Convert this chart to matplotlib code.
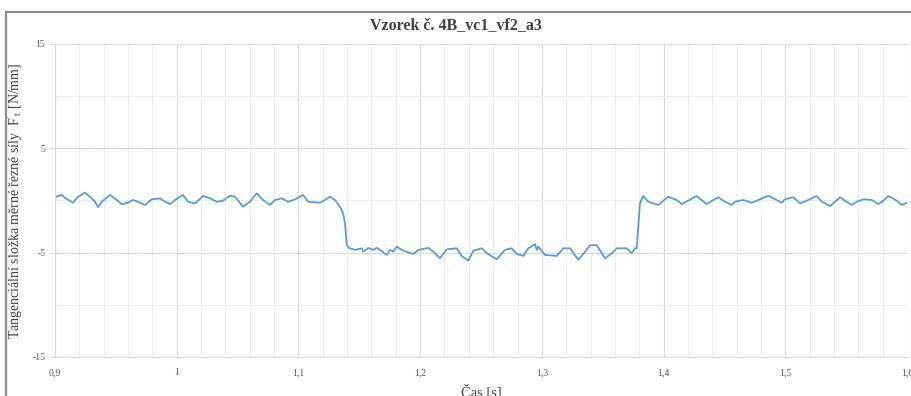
import matplotlib.pyplot as plt
from matplotlib.patches import Rectangle
from matplotlib.ticker import MultipleLocator, FuncFormatter

# measured tangential specific cutting force over time
cas = [0.9000, 0.9055, 0.9082, 0.9148, 0.9189, 0.9246, 0.9288, 0.9329, 0.9353, 0.9384,
       0.9452, 0.9507, 0.9548, 0.9600, 0.9641, 0.9682, 0.9740, 0.9794, 0.9863, 0.9904,
       0.9945, 0.9986, 1.0052, 1.0093, 1.0150, 1.0216, 1.0274, 1.0329, 1.0380, 1.0438,
       1.0479, 1.0545, 1.0602, 1.0657, 1.0709, 1.0766, 1.0808, 1.0863, 1.0914, 1.0972,
       1.1038, 1.1079, 1.1177, 1.1218, 1.1259, 1.1300, 1.1341, 1.1366, 1.1382, 1.1397,
       1.1418, 1.1424, 1.1465, 1.1520, 1.1533, 1.1574, 1.1615, 1.1643, 1.1670, 1.1725,
       1.1752, 1.1779, 1.1807, 1.1848, 1.1903, 1.1944, 1.1985, 1.2067, 1.2108, 1.2163,
       1.2218, 1.2300, 1.2341, 1.2396, 1.2437, 1.2506, 1.2547, 1.2629, 1.2697, 1.2752,
       1.2793, 1.2848, 1.2889, 1.2944, 1.2958, 1.2971, 1.3026, 1.3122, 1.3177, 1.3232,
       1.3299, 1.3341, 1.3396, 1.3451, 1.3519, 1.3574, 1.3615, 1.3697, 1.3738, 1.3765,
       1.3779, 1.3806, 1.3833, 1.3874, 1.3956, 1.4038, 1.4107, 1.4148, 1.4202, 1.4271,
       1.4353, 1.4449, 1.4490, 1.4559, 1.4586, 1.4654, 1.4723, 1.4764, 1.4860, 1.4901,
       1.4970, 1.4997, 1.5066, 1.5121, 1.5189, 1.5258, 1.5300, 1.5368, 1.5450, 1.5491,
       1.5546, 1.5587, 1.5642, 1.5711, 1.5765, 1.5806, 1.5847, 1.5916, 1.5957, 1.6000]
sila = [0.31, 0.53, 0.24, -0.21, 0.36, 0.75, 0.36, -0.12, -0.65, -0.12,
        0.53, 0.05, -0.36, -0.21, 0.05, -0.12, -0.43, 0.11, 0.21, -0.12,
        -0.34, 0.05, 0.53, -0.12, -0.27, 0.43, 0.21, -0.12, -0.02, 0.46,
        0.36, -0.59, -0.12, 0.69, 0.05, -0.43, 0.05, 0.21, -0.12, 0.11,
        0.53, -0.12, -0.21, 0.05, 0.36, 0.05, -0.59, -1.20, -2.15, -4.26,
        -4.58, -4.58, -4.74, -4.58, -4.90, -4.54, -4.74, -4.54, -4.74, -5.22,
        -4.74, -4.90, -4.42, -4.74, -4.99, -5.12, -4.74, -4.54, -4.90, -5.54,
        -4.68, -4.58, -5.32, -5.76, -4.82, -4.58, -5.05, -5.63, -4.74, -4.58,
        -5.12, -5.31, -4.58, -4.19, -4.74, -4.42, -5.22, -5.31, -4.58, -4.58,
        -5.69, -5.12, -4.29, -4.29, -5.54, -5.07, -4.58, -4.58, -5.07, -4.58,
        -4.58, -0.27, 0.43, -0.12, -0.43, 0.36, 0.05, -0.34, -0.02, 0.43,
        -0.34, 0.31, -0.02, -0.43, -0.12, 0.05, -0.21, -0.02, 0.46, 0.21,
        -0.21, 0.11, 0.31, -0.27, 0.05, 0.43, -0.12, -0.53, 0.31, -0.02,
        -0.43, -0.12, 0.11, 0.05, -0.34, -0.02, 0.43, -0.02, -0.43, -0.21]

serif = 'Liberation Serif'
plt.rcParams['font.family'] = serif
plt.rcParams['mathtext.fontset'] = 'custom'
plt.rcParams['mathtext.rm'] = serif
plt.rcParams['mathtext.it'] = serif + ':italic'
plt.rcParams['axes.unicode_minus'] = False

fig = plt.figure(figsize=(9.11, 3.96), dpi=100)
ax = fig.add_axes([0.0604, 0.0985, 0.9352, 0.7904])

# chart frame (only top and left edges are visible)
fig.patches.append(Rectangle((0.0066, -0.2), 1.2, 1.17, transform=fig.transFigure,
                             fill=False, edgecolor='#8c8c8c', linewidth=1.6))

ax.plot(cas, sila, color='#5b9bd5', linewidth=1.3)

ax.set_xlim(0.9, 1.6)
ax.set_ylim(-15, 15)
ax.xaxis.set_major_locator(MultipleLocator(0.1))
ax.xaxis.set_minor_locator(MultipleLocator(0.02))
ax.set_yticks([-15, -5, 5, 15])
ax.set_yticks([-10, 0, 10], minor=True)


def carka(x, pos):
    s = '%g' % round(x, 2)
    return s.replace('.', ',')


ax.xaxis.set_major_formatter(FuncFormatter(carka))
ax.grid(which='major', color='#d9d9d9', linewidth=0.8)
ax.grid(which='minor', color='#eeeeee', linewidth=0.8)
ax.set_axisbelow(True)

for s in ['top', 'right']:
    ax.spines[s].set_visible(False)
for s in ['left', 'bottom']:
    ax.spines[s].set_color('#d9d9d9')
    ax.spines[s].set_linewidth(0.8)

ax.tick_params(axis='x', which='both', length=0, labelsize=7, colors='#595959', pad=8)
ax.tick_params(axis='y', which='major', length=4, color='#d9d9d9', labelsize=7,
               labelcolor='#595959', pad=3)
ax.tick_params(axis='y', which='minor', length=0)

ax.set_xlabel('Čas [s]', fontsize=10.5, color='#404040')
ax.xaxis.set_label_coords(0.5, -0.085)
ax.set_ylabel("Tangenciální složka měrné řezné síly  $\\mathregular{F'_t}$ [N/mm]",
              fontsize=10, color='#404040')
ax.yaxis.set_label_coords(-0.035, 0.5)
fig.text(0.5, 0.937, 'Vzorek č. 4B_vc1_vf2_a3', ha='center', va='center',
         fontsize=11.5, fontweight='bold', color='#404040')

fig.savefig('out.png', dpi=100)
